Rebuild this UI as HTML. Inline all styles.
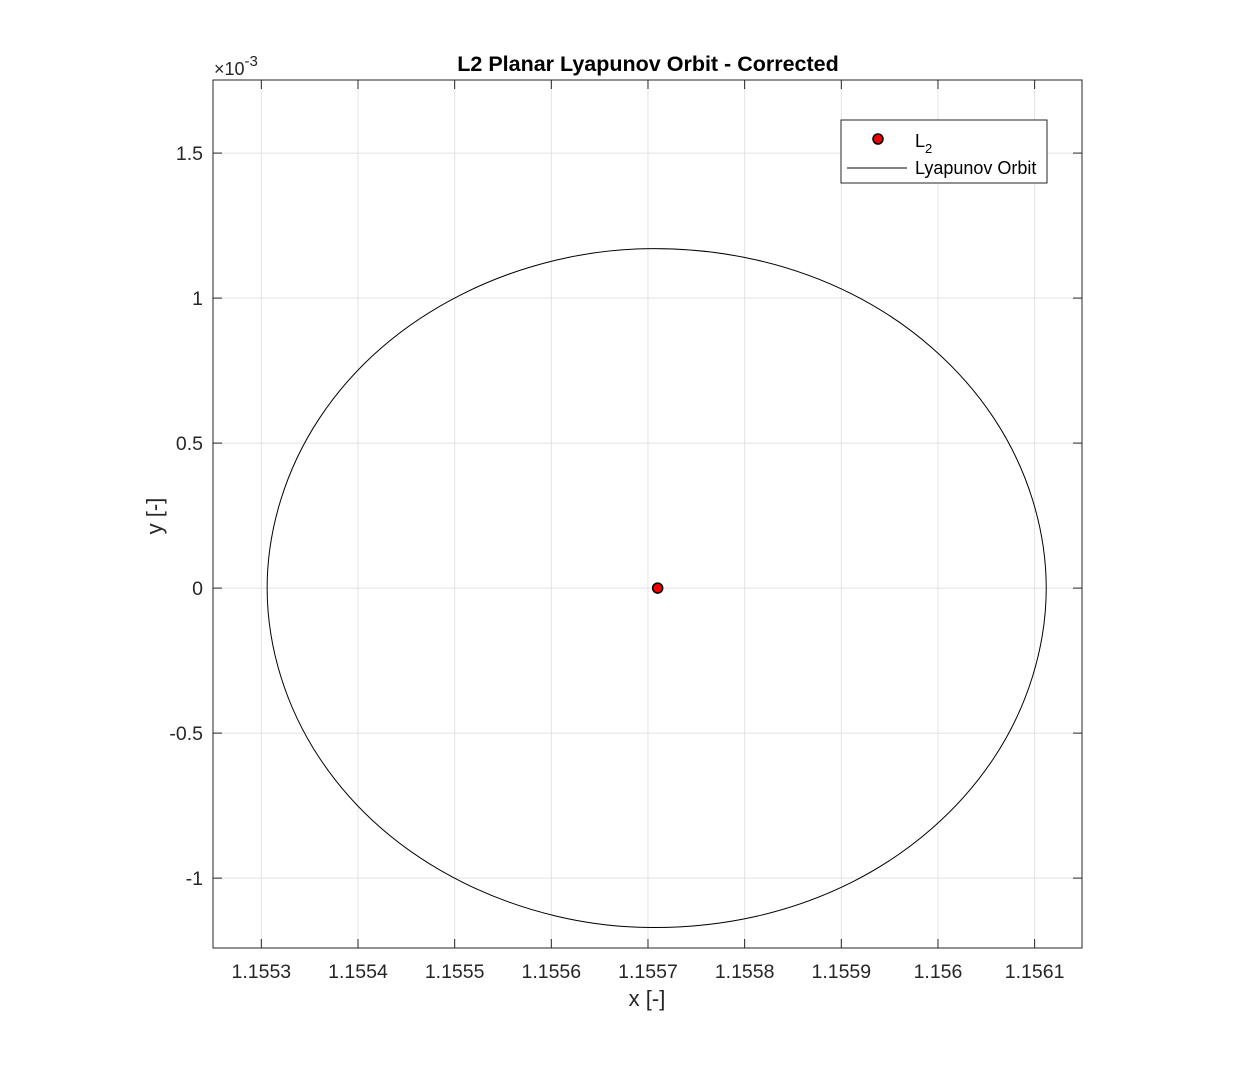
<!DOCTYPE html>
<html><head><meta charset="utf-8"><style>
body{margin:0;background:#fff;}
svg text{font-family:"Liberation Sans",sans-serif;fill:#262626;}
</style></head><body>
<svg id="chart" width="1252" height="1066" xmlns="http://www.w3.org/2000/svg">
<rect width="1252" height="1066" fill="#fff"/>
<g id="grid"></g>
<g id="marks"></g>
<g id="axes"></g>
<text x="648" y="71" text-anchor="middle" font-size="21.5" font-weight="bold" style="fill:#000">L2 Planar Lyapunov Orbit - Corrected</text>
<text x="214" y="75" font-size="18">×10<tspan dy="-9" font-size="15">-3</tspan></text>
<text x="647" y="1006" text-anchor="middle" font-size="22">x [-]</text>
<text transform="translate(162,516) rotate(-90)" text-anchor="middle" font-size="22">y [-]</text>
<g>
<rect x="841" y="120" width="206" height="63" fill="#fff" stroke="#262626" stroke-width="1"/>
<circle cx="878" cy="139" r="5" fill="#e00" stroke="#000" stroke-width="1.5"/>
<text x="915" y="147" font-size="18" style="fill:#000">L<tspan dy="6" font-size="13">2</tspan></text>
<line x1="847" y1="168" x2="907" y2="168" stroke="#000" stroke-width="1"/>
<text x="915" y="174" font-size="18" style="fill:#000">Lyapunov Orbit</text>
</g>
</svg>
<script>
const xTicks=[1.1553,1.1554,1.1555,1.1556,1.1557,1.1558,1.1559,1.156,1.1561];
const xTickLabels=["1.1553","1.1554","1.1555","1.1556","1.1557","1.1558","1.1559","1.156","1.1561"];
const yTicks=[-1,-0.5,0,0.5,1,1.5];
const yTickLabels=["-1","-0.5","0","0.5","1","1.5"];
const orbitX=[1.156112,1.156098,1.156058,1.155994,1.155911,1.155813,1.155706,1.155605,1.155508,1.155424,1.155360,1.155320,1.155306,1.155320,1.155360,1.155424,1.155508,1.155605,1.155706,1.155813,1.155911,1.155994,1.156058,1.156098];
const orbitY=[0,0.303,0.585,0.828,1.014,1.131,1.1705,1.131,1.014,0.828,0.585,0.303,0,-0.303,-0.585,-0.828,-1.014,-1.131,-1.1705,-1.131,-1.014,-0.828,-0.585,-0.303];
const l2X=[1.155710];
const l2Y=[0];
const L=213,R=1082,T=80,B=948;
const xMin=1.155250,xMax=1.156149,yMin=-1.241,yMax=1.752;
const sx=v=>L+(v-xMin)/(xMax-xMin)*(R-L);
const sy=v=>B-(v-yMin)/(yMax-yMin)*(B-T);
const NS="http://www.w3.org/2000/svg";
function mk(tag,attrs,parent){const e=document.createElementNS(NS,tag);for(const k in attrs)e.setAttribute(k,attrs[k]);parent.appendChild(e);return e;}
const grid=document.getElementById('grid'),axes=document.getElementById('axes'),marks=document.getElementById('marks');
xTicks.forEach((t,i)=>{const x=sx(t);
 const g=mk('line',{x1:x,x2:x,y1:T,y2:B,stroke:'#e3e3e3','stroke-width':1},grid);
 
 mk('line',{x1:x,x2:x,y1:B,y2:B-9,stroke:'#262626'},axes);
 mk('line',{x1:x,x2:x,y1:T,y2:T+9,stroke:'#262626'},axes);
 const tx=mk('text',{x:x,y:B+30,'text-anchor':'middle','font-size':19.5},axes);tx.textContent=xTickLabels[i];
 });
yTicks.forEach((t,i)=>{const y=sy(t);
 const g=mk('line',{x1:L,x2:R,y1:y,y2:y,stroke:'#e3e3e3','stroke-width':1},grid);
 
 mk('line',{x1:L,x2:L+9,y1:y,y2:y,stroke:'#262626'},axes);
 mk('line',{x1:R,x2:R-9,y1:y,y2:y,stroke:'#262626'},axes);
 const tx=mk('text',{x:L-10,y:y+7,'text-anchor':'end','font-size':19.5},axes);tx.textContent=yTickLabels[i];
 });
mk('rect',{x:L,y:T,width:R-L,height:B-T,fill:'none',stroke:'#262626','stroke-width':1},axes);
const P=orbitX.map((v,i)=>[sx(v),sy(orbitY[i])]);const n=P.length;
let d=`M${P[0][0]},${P[0][1]}`;
for(let i=0;i<n;i++){const p0=P[(i-1+n)%n],p1=P[i],p2=P[(i+1)%n],p3=P[(i+2)%n];
 d+=` C${p1[0]+(p2[0]-p0[0])/6},${p1[1]+(p2[1]-p0[1])/6} ${p2[0]-(p3[0]-p1[0])/6},${p2[1]-(p3[1]-p1[1])/6} ${p2[0]},${p2[1]}`;}
const orbit=mk('path',{d:d+'Z',fill:'none',stroke:'#000','stroke-width':1},marks);

l2X.forEach((v,i)=>{const c=mk('circle',{cx:sx(v),cy:sy(l2Y[i]),r:5,fill:'#e00',stroke:'#000','stroke-width':1.5},marks);
 });
</script>
</body></html>
